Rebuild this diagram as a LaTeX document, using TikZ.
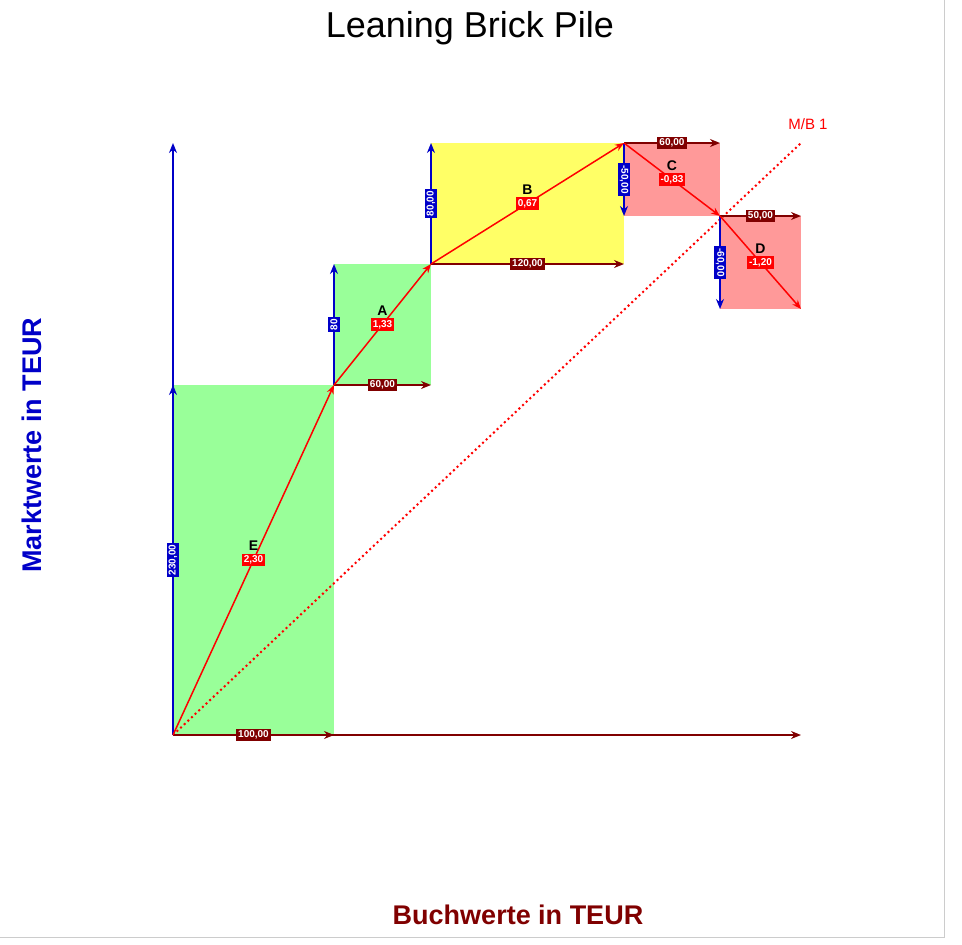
\documentclass[tikz,border=0pt]{standalone}
\usepackage{fontspec}
\setmainfont{Liberation Sans}
\usetikzlibrary{arrows.meta}
\definecolor{dred}{RGB}{128,0,0}
\definecolor{dblue}{RGB}{0,0,200}
\definecolor{lgreen}{RGB}{153,255,153}
\definecolor{lyellow}{RGB}{255,255,102}
\definecolor{lpink}{RGB}{255,153,153}
\tikzset{
 harr/.style={draw=dred,line width=1.5pt,-{Stealth[length=10pt,width=8pt]}},
 varr/.style={draw=dblue,line width=1.5pt,-{Stealth[length=10pt,width=8pt]}},
 rarr/.style={draw=red,line width=1.5pt,-{Stealth[length=9pt,width=7pt]}},
 hlab/.style={fill=dred,text=white,font=\fontsize{10}{10}\selectfont\bfseries,inner sep=2pt},
 vlab/.style={fill=dblue,text=white,font=\fontsize{10}{10}\selectfont\bfseries,inner sep=2pt},
 rlab/.style={fill=red,text=white,font=\fontsize{10}{10}\selectfont\bfseries,inner sep=2pt},
 letter/.style={font=\fontsize{14}{14}\selectfont\bfseries,text=black,inner sep=0pt},
}
\begin{document}
\begin{tikzpicture}[x=1pt,y=-1pt]
\useasboundingbox (0,0) rectangle (962,945);
\draw[gray!40] (944,0) -- (944,937) -- (0,937);
\coordinate (O) at (173,735);
\coordinate (P1) at (334,385);
\coordinate (P2) at (431,264);
\coordinate (P3) at (624,143);
\coordinate (P4) at (720,216);
\coordinate (P5) at (801,309);
\coordinate (Ytop) at (173,143);
\coordinate (Xend) at (801,735);
\coordinate (MB) at (801,143);
% rectangles
\fill[lgreen] (173,385) rectangle (334,735);
\fill[lgreen] (334,264) rectangle (431,385);
\fill[lyellow] (431,143) rectangle (624,264);
\fill[lpink] (624,143) rectangle (720,216);
\fill[lpink] (720,216) rectangle (801,309);
% axes
\draw[varr] (O) -- (Ytop);
\draw[harr] (O) -- (Xend);
\draw[red,line width=2pt,dash pattern=on 2pt off 3pt] (O) -- (MB);
\node[text=red,font=\fontsize{15}{15}\selectfont,anchor=south] (mbl) at (808,133) {M/B 1};
% horizontals
\coordinate (hA) at (431,385); \coordinate (hB) at (624,264);
\coordinate (hC0) at (624,143); \coordinate (hC) at (720,143);
\coordinate (hD0) at (720,216); \coordinate (hD) at (801,216);
\coordinate (hE) at (334,735);
\draw[harr] (O) -- (hE) node[midway,hlab] (lhE) {100,00};
\draw[harr] (P1) -- (hA) node[midway,hlab] (lhA) {60,00};
\draw[harr] (P2) -- (hB) node[midway,hlab] (lhB) {120,00};
\draw[harr] (hC0) -- (hC) node[midway,hlab] (lhC) {60,00};
\draw[harr] (hD0) -- (hD) node[midway,hlab] (lhD) {50,00};
% verticals
\coordinate (vE) at (173,385); \coordinate (vA0) at (334,385); \coordinate (vA) at (334,264);
\coordinate (vB0) at (431,264); \coordinate (vB) at (431,143);
\coordinate (vC) at (624,216); \coordinate (vD) at (720,309);
\draw[varr] (O) -- (vE) node[midway,vlab,rotate=90] (lvE) {230,00};
\draw[varr] (vA0) -- (vA) node[midway,vlab,rotate=90] (lvA) {80};
\draw[varr] (vB0) -- (vB) node[midway,vlab,rotate=90] (lvB) {80,00};
\draw[varr] (P3) -- (vC) node[midway,vlab,rotate=-90] (lvC) {-50,00};
\draw[varr] (P4) -- (vD) node[midway,vlab,rotate=-90] (lvD) {-60,00};
% red diagonals
\draw[rarr] (O) -- (P1) node[midway,rlab] (rE) {2,30};
\draw[rarr] (P1) -- (P2) node[midway,rlab] (rA) {1,33};
\draw[rarr] (P2) -- (P3) node[midway,rlab] (rB) {0,67};
\draw[rarr] (P3) -- (P4) node[midway,rlab] (rC) {-0,83};
\draw[rarr] (P4) -- (P5) node[midway,rlab] (rD) {-1,20};
\node[letter,above=2pt] (tE) at (rE.north) {E};
\node[letter,above=2pt] (tA) at (rA.north) {A};
\node[letter,above=2pt] (tB) at (rB.north) {B};
\node[letter,above=2pt] (tC) at (rC.north) {C};
\node[letter,above=2pt] (tD) at (rD.north) {D};
% titles
\node[font=\fontsize{36}{36}\selectfont] (title) at (470,28) {Leaning Brick Pile};
\node[font=\fontsize{27}{27}\selectfont\bfseries,text=dblue,rotate=90] (ylab) at (32,445) {Marktwerte in TEUR};
\node[font=\fontsize{27}{27}\selectfont\bfseries,text=dred] (xlab) at (518,915) {Buchwerte in TEUR};
\end{tikzpicture}
\end{document}
